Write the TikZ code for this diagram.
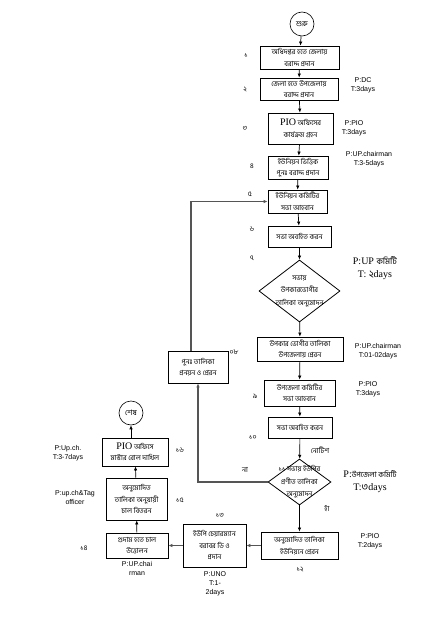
\documentclass[tikz,border=0pt]{standalone}
\usepackage{fontspec}
\setmainfont{Liberation Sans}
\newfontfamily\bn[Script=Bengali]{Hind Siliguri}
\newfontfamily\serifL{Liberation Serif}
\usetikzlibrary{arrows.meta, positioning, shapes.geometric, calc}
\definecolor{flowGrey}{HTML}{555555}

\begin{document}
\begin{tikzpicture}[x=1pt, y=-1pt,
  every node/.style={inner sep=1pt},
  box/.style={draw, line width=0.8pt, fill=white, align=center, inner sep=1pt,
              font=\bn\fontsize{7}{11.5}\selectfont},
  startend/.style={draw, circle, line width=0.6pt, minimum size=24pt, inner sep=0pt,
                   font=\bn\fontsize{7.5}{8}\selectfont},
  decision/.style={draw, diamond, line width=0.8pt, inner sep=0pt},
  dtext/.style={align=center, font=\bn\fontsize{7}{12.5}\selectfont},
  stepnum/.style={font=\bn\fontsize{7}{8}\selectfont},
  note/.style={align=center, font=\fontsize{7}{9}\selectfont},
  bignote/.style={align=center, font=\serifL\fontsize{10}{13}\selectfont},
  arrow/.style={-{Latex[length=4pt, width=3.5pt]}, line width=0.7pt},
  backarrow/.style={-{Latex[length=4pt, width=3.5pt]}, line width=1.1pt, draw=flowGrey}
]
\useasboundingbox[fill=white] (0,0) rectangle (436,618);

% main column
\node[startend] (start) at (302,24) {শুরু};
\node[box, minimum width=79pt, minimum height=23pt] (b1) at (299.5,57.5) {অধিদপ্তর হতে জেলায়\\বরাদ্দ প্রদান};
\node[box, minimum width=78pt, minimum height=22pt] (b2) at (299,89) {জেলা হতে উপজেলায়\\বরাদ্দ প্রদান};
\node[box, minimum width=65pt, minimum height=31pt] (b3) at (300.5,128.5) {{\serifL\fontsize{10}{13}\selectfont PIO} অফিসের\\কার্যক্রম গ্রহন};
\node[box, minimum width=60pt, minimum height=23pt] (b4) at (298,167.5) {ইউনিয়ন ভিত্তিক\\পুনঃ বরাদ্দ প্রদান};
\node[box, minimum width=59pt, minimum height=23pt] (b5) at (297.5,201.5) {ইউনিয়ন কমিটির\\সভা আহবান};
\node[box, minimum width=63pt, minimum height=21pt] (b6) at (299.5,236.5) {সভা অবহিত করন};
\node[decision, minimum width=81pt, minimum height=62pt] (d7) at (299.5,291) {};
\node[dtext] (d7txt) at (d7.center) {সভায়\\উপকারভোগীর\\তালিকা অনুমোদন};
\node[box, minimum width=86pt, minimum height=24pt] (b8) at (300,349) {উপকার ভোগীর তালিকা\\উপজেলায় প্রেরন};
\node[box, minimum width=71pt, minimum height=26pt] (b9) at (299.5,393) {উপজেলা কমিটির\\সভা আহবান};
\node[box, minimum width=64pt, minimum height=21pt] (b10) at (300,427.5) {সভা অবহিত করন};
\node[decision, minimum width=63pt, minimum height=46pt] (d11) at (299.5,482) {};
\node[dtext] (d11txt) at (d11.center) {১১ সভায় ইউপির\\প্রণীত তালিকা\\অনুমোদন};
\node[box, minimum width=77pt, minimum height=27pt] (b12) at (299.5,545.5) {অনুমোদিত তালিকা\\ইউনিয়নে প্রেরন};

% bottom row and left column
\node[box, minimum width=63pt, minimum height=43pt] (b13) at (214.5,545.5) {ইউপি চেয়ারম্যান\\বরাবর ডি ও\\প্রদান};
\node[box, minimum width=62pt, minimum height=25pt] (b14) at (137,545.5) {গুদাম হতে চাল\\উত্তোলন};
\node[box, minimum width=61pt, minimum height=42pt] (b15) at (136.5,499) {অনুমোদিত\\তালিকা অনুযায়ী\\চাল বিতরন};
\node[box, minimum width=66pt, minimum height=28pt] (b16) at (135,452) {{\serifL\fontsize{10}{13}\selectfont PIO} অফিসে\\মাস্টার রোল দাখিল};
\node[startend] (finish) at (131,413) {শেষ};
\node[box, minimum width=60pt, minimum height=32pt] (redo) at (198,367) {পুনঃ তালিকা\\প্রনয়ন ও প্রেরন};

% step numbers
\node[stepnum] (n1) at (246,55) {১};
\node[stepnum] (n2) at (245,90) {২};
\node[stepnum] (n3) at (245,128) {৩};
\node[stepnum] (n4) at (252,166) {৪};
\node[stepnum] (n5) at (250,194) {৫};
\node[stepnum] (n6) at (252,229) {৬};
\node[stepnum] (n7) at (252,258) {৭};
\node[stepnum] (n8) at (234,352) {০৮};
\node[stepnum] (n9) at (255,396) {৯};
\node[stepnum] (n10) at (253,437) {১০};
\node[stepnum] (n12) at (300,569) {১২};
\node[stepnum] (n13) at (220,515) {১৩};
\node[stepnum] (n14) at (84,548) {১৪};
\node[stepnum] (n15) at (180,500) {১৫};
\node[stepnum] (n16) at (180,450) {১৬};

% responsibility and time notes
\node[note] (p2) at (363,85) {P:DC\\T:3days};
\node[note] (p3) at (354,128) {P:PIO\\T:3days};
\node[note] (p4) at (369,159) {P:UP.chairman\\T:3-5days};
\node[bignote] (p7) at (375,268) {P:UP {\bn\fontsize{8.5}{13}\selectfont কমিটি}\\T: {\bn ২}days};
\node[note] (p8) at (378,351) {P:UP.chairman\\T:01-02days};
\node[note] (p9) at (368,389) {P:PIO\\T:3days};
\node[bignote] (p11) at (370,482) {P:{\bn\fontsize{7.5}{9}\selectfont উপজেলা কমিটি}\\T:{\bn ৩}days};
\node[note] (p12) at (370,541) {P:PIO\\T:2days};
\node[note] (p13) at (215,584) {P:UNO\\T:1-\\2days};
\node[note] (p14) at (137,568) {P:UP.chai\\rman};
\node[note] (p15) at (75,497) {P:up.ch\&Tag\\officer};
\node[note] (p16) at (68,453) {P:Up.ch.\\T:3-7days};
\node[stepnum] (notice) at (320,450) {নোটিশ};
\node[stepnum] (no) at (245,470) {না};
\node[stepnum] (yes) at (327,508) {হাঁ};

\draw[arrow] (start) -- (b1);
\draw[arrow] (b1) -- (b2);
\draw[arrow] (b2) -- (b3);
\draw[arrow] (b3) -- (b4);
\draw[arrow] (b4) -- (b5);
\draw[arrow] (b5) -- (b6);
\draw[arrow] (b6) -- (d7);
\draw[arrow] (d7) -- (b8);
\draw[arrow] (b8) -- (b9);
\draw[arrow] (b9) -- (b10);
\draw[arrow] (b10) -- (d11);
\draw[arrow] (d11) -- (b12);
\draw[backarrow] (b12) -- (b13);
\draw[backarrow] (b13) -- (b14);
\draw[arrow] (b14) -- (b15);
\draw[arrow] (b15) -- (b16);
\draw[arrow] (b16.north -| finish) -- (finish);
\draw[backarrow] (d11.west) -| (redo.south);
\draw[backarrow] ([xshift=-7pt]redo.north) |- (b5.west);
\end{tikzpicture}
\end{document}
